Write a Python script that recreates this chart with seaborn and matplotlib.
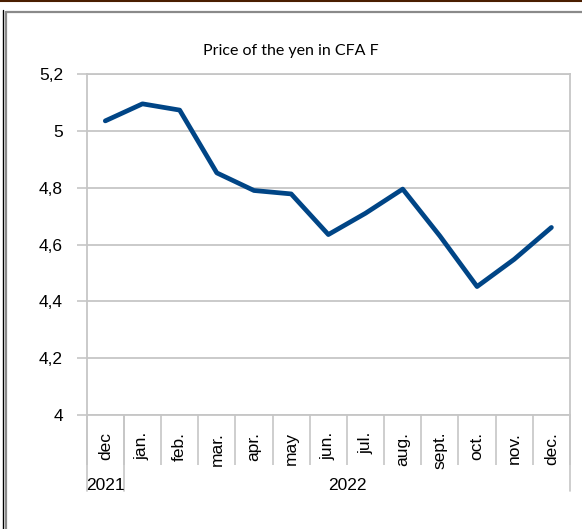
import numpy as np
import pandas as pd
import matplotlib
matplotlib.use("Agg")
import matplotlib.pyplot as plt
from matplotlib.lines import Line2D
import seaborn as sns

months = ["dec", "jan.", "feb.", "mar.", "apr.", "may", "jun.", "jul.",
          "aug.", "sept.", "oct.", "nov.", "dec."]
years = ["2021", "2022"]
year_of_month = ["2021"] + ["2022"] * 12
prices = [5.035, 5.095, 5.073, 4.852, 4.79, 4.778, 4.635, 4.71,
          4.795, 4.63, 4.452, 4.548, 4.66]
y_ticks = [4.0, 4.2, 4.4, 4.6, 4.8, 5.0, 5.2]
title = "Price of the yen in CFA F"

sns.set_theme(style="white")
plt.rcParams["font.family"] = ["Liberation Sans", "DejaVu Sans"]

W, H = 582, 529
fig = plt.figure(figsize=(W / 100, H / 100), dpi=100)
left, right, top, bottom = 86.7, 570, 74, 415
ax = fig.add_axes([left / W, 1 - bottom / H, (right - left) / W, (bottom - top) / H])

df = pd.DataFrame({"pos": np.arange(len(months)), "price": prices})
grid_c = "#c6c6c6"

ax.set_xlim(-0.5, len(months) - 0.5)
ax.set_ylim(4.0, 5.2)
for v in y_ticks:
    ax.axhline(v, color=grid_c, lw=1.3, zorder=0)

sns.lineplot(data=df, x="pos", y="price", ax=ax, color="#004586",
             linewidth=3.4, sort=False, legend=False, zorder=3)

ax.set_xlabel("")
ax.set_ylabel("")
for s in ax.spines.values():
    s.set_color(grid_c)
    s.set_linewidth(1.3)
    s.set_visible(True)

ax.set_yticks(y_ticks)
ax.set_yticklabels([("%g" % v).replace(".", ",") for v in y_ticks], fontsize=12.5)
ax.tick_params(axis="y", which="major", length=7, width=1.2, color=grid_c,
               pad=10, left=True, labelcolor="black", direction="out")

ax.set_xticks(np.arange(len(months)))
ax.set_xticklabels(months, rotation=90, fontsize=12.5)
ax.tick_params(axis="x", which="major", length=0, pad=12, labelcolor="black")
ax.set_xticks(np.arange(len(months) + 1) - 0.5, minor=True)
ax.tick_params(axis="x", which="minor", length=36, width=1.2, color=grid_c,
               bottom=True, direction="out")

# year groups
trans = ax.get_xaxis_transform()
ax_h = bottom - top
idx = np.arange(len(months))
bounds = set()
for yr in years:
    sel = idx[[y == yr for y in year_of_month]]
    lo, hi = sel.min() - 0.5, sel.max() + 0.5
    bounds.update([lo, hi])
    ax.text((lo + hi) / 2, -71 / ax_h, yr, transform=trans, ha="center",
            va="center", fontsize=12.5, color="black")
for b in sorted(bounds):
    ax.plot([b, b], [0, -76 / ax_h], transform=trans, color=grid_c, lw=1.2,
            clip_on=False)

fig.text(291 / W, 1 - 51 / H, title, ha="center", va="center",
         fontsize=11.5, family=["Lato", "DejaVu Sans"], color="black")

# outer frame decorations
fig.add_artist(Line2D([0, 1], [1 - 0.5 / H, 1 - 0.5 / H], color="#4a1e00", lw=1.5))
fig.add_artist(Line2D([3.3 / W, 3.3 / W], [0, 1 - 10 / H], color="black", lw=1.0))
fig.add_artist(Line2D([6 / W, 6 / W], [0, 1 - 12 / H], color="#8a8a8a", lw=1.6))
fig.add_artist(Line2D([6 / W, 1], [1 - 12 / H, 1 - 12 / H], color="#8a8a8a", lw=1.6))

fig.savefig("out.png", dpi=100)
